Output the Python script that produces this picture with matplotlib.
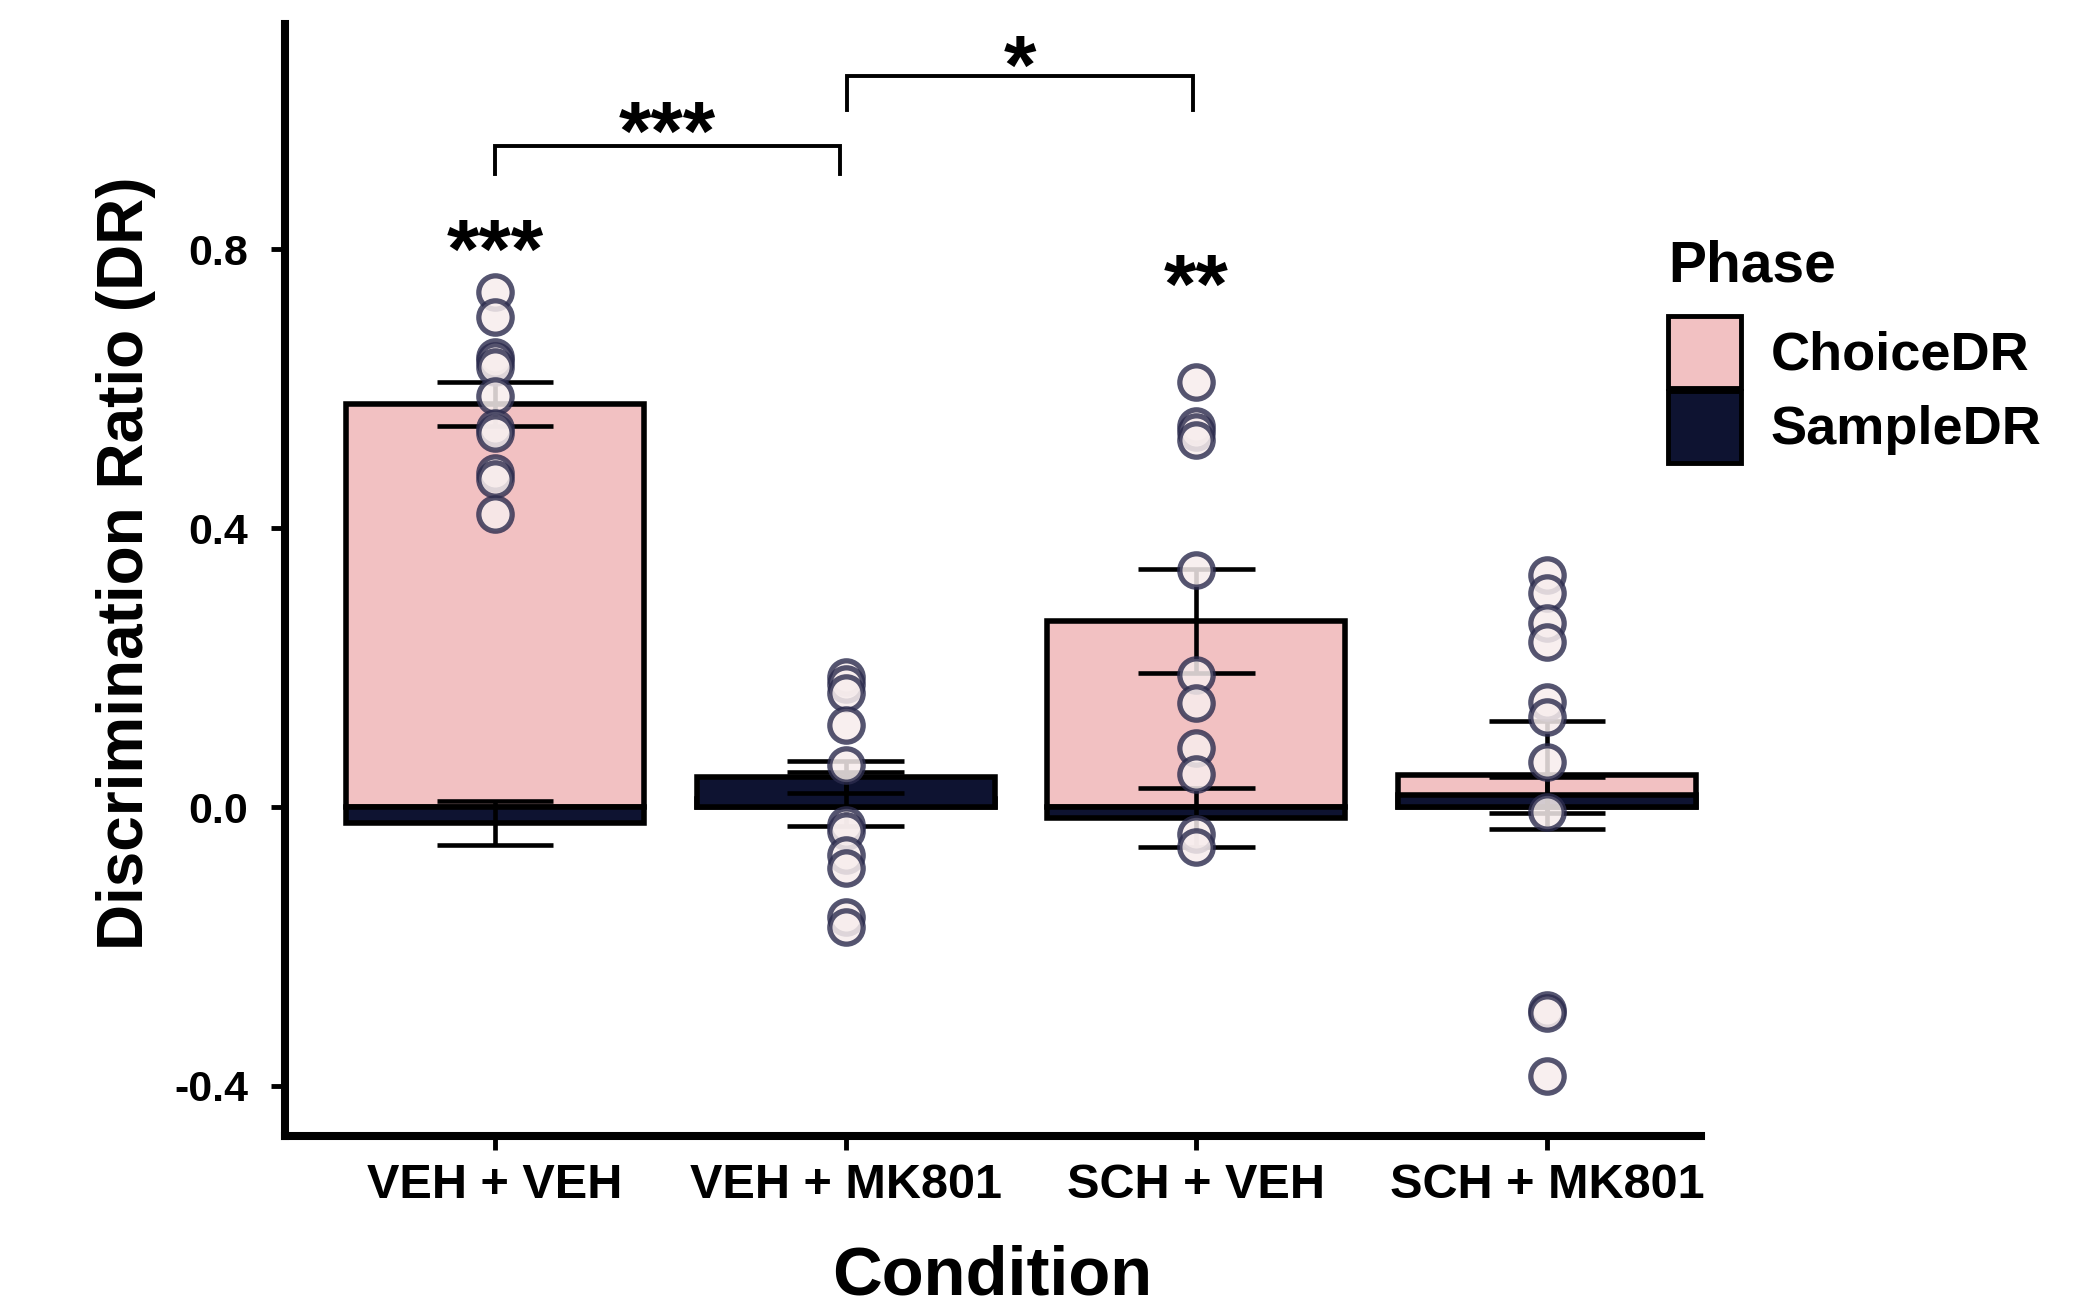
import matplotlib
matplotlib.use("Agg")
import matplotlib.pyplot as plt
from matplotlib.patches import Patch
import numpy as np

# ---------------- data ----------------
conditions = ["VEH + VEH", "VEH + MK801", "SCH + VEH", "SCH + MK801"]
phases = ["ChoiceDR", "SampleDR"]
choice_mean = [0.578, 0.012, 0.267, 0.046]
choice_se = [0.031, 0.039, 0.075, 0.077]
sample_mean = [-0.023, 0.043, -0.015, 0.017]
sample_se = [0.031, 0.023, 0.042, 0.026]

choice_veh_veh = [0.738, 0.703, 0.646, 0.639, 0.631, 0.589, 0.543, 0.536, 0.479, 0.471, 0.421]
choice_veh_mk801 = [0.187, 0.177, 0.163, 0.118, 0.060, -0.026, -0.035, -0.069, -0.088, -0.157, -0.172]
choice_sch_veh = [0.610, 0.546, 0.538, 0.527, 0.340, 0.189, 0.149, 0.084, 0.048, -0.038, -0.057]
choice_sch_mk801 = [0.333, 0.307, 0.264, 0.237, 0.151, 0.129, 0.065, -0.007, -0.291, -0.295, -0.385]

yticks = [-0.4, 0.0, 0.4, 0.8]
group_stars = ["***", "", "**", ""]
pair_tests = [(0, 1, "***"), (1, 2, "*")]

# ---------------- style ----------------
plt.rcParams["font.family"] = ["Liberation Sans", "DejaVu Sans"]
plt.rcParams["font.weight"] = "bold"

PINK = "#F2C1C2"
NAVY = "#0E1331"
PT_FACE = (0.97, 0.93, 0.93, 0.85)
PT_EDGE = (0.17, 0.17, 0.30, 0.80)

fig = plt.figure(figsize=(20.75, 13.05), dpi=100)
ax = fig.add_axes([284.5 / 2075, 1 - 1135.5 / 1305, (1700.6 - 284.5) / 2075, (1135.5 - 24) / 1305])

x = np.arange(len(conditions))
bw = 0.85

ax.bar(x, choice_mean, width=bw, color=PINK, edgecolor="black", linewidth=4, zorder=2)
ax.bar(x, sample_mean, width=bw, color=NAVY, edgecolor="black", linewidth=4, zorder=3)

cap = 0.166
for means, ses in [(choice_mean, choice_se), (sample_mean, sample_se)]:
    m = np.array(means)
    s = np.array(ses)
    ax.vlines(x, m - s, m + s, color="black", linewidth=3.3, zorder=4)
    ax.hlines(m + s, x - cap, x + cap, color="black", linewidth=3.3, zorder=4)
    ax.hlines(m - s, x - cap, x + cap, color="black", linewidth=3.3, zorder=4)

for i, pts in enumerate([choice_veh_veh, choice_veh_mk801, choice_sch_veh, choice_sch_mk801]):
    ax.plot(np.full(len(pts), x[i]), pts, "o", ms=24, mfc=PT_FACE, mec=PT_EDGE, mew=3.8,
            linestyle="none", zorder=5)

# significance annotations
STAR_FS = 60
def star(xc, yc, s):
    ax.annotate(s, xy=(xc, yc), xytext=(0, -0.50 * STAR_FS), textcoords="offset points",
                ha="center", va="baseline", fontsize=STAR_FS, fontweight="bold",
                annotation_clip=False, zorder=6)

star(x[0], 0.818, group_stars[0])
star(x[2], 0.768, group_stars[2])

brackets = [(0.0, 0.985, 0.948, 0.908, 0.988), (1.005, 1.99, 1.049, 0.999, 1.083)]
for (a, b, s), (x0, x1, ytop, ytip, ystar) in zip(pair_tests, brackets):
    ax.plot([x0, x0, x1, x1], [ytip, ytop, ytop, ytip], color="black", linewidth=2.8,
            solid_joinstyle="miter", clip_on=False, zorder=6)
    star((x0 + x1) / 2, ystar, s)

# axes
ax.set_xlim(-0.6, 3.438)
ax.set_ylim(-0.471, 1.123)
ax.set_xticks(x)
ax.set_xticklabels(conditions, fontsize=35, fontweight="bold")
ax.set_yticks(yticks)
ax.set_yticklabels([f"{v:.1f}" for v in yticks], fontsize=31, fontweight="bold")
ax.tick_params(axis="both", length=10, width=3.5, color="black")
ax.tick_params(axis="y", pad=16)
ax.tick_params(axis="x", pad=10)
for sp in ["top", "right"]:
    ax.spines[sp].set_visible(False)
for sp in ["left", "bottom"]:
    ax.spines[sp].set_linewidth(5.8)
    ax.spines[sp].set_capstyle("projecting")

ax.set_xlabel("Condition", fontsize=49.5, fontweight="bold", va="center")
ax.xaxis.set_label_coords(0.5, -0.127)
ax.set_ylabel("Discrimination Ratio (DR)", fontsize=46, fontweight="bold", va="center")
ax.yaxis.set_label_coords(-0.112, 0.515)

handles = [Patch(facecolor=PINK, edgecolor="black", linewidth=3.5),
           Patch(facecolor=NAVY, edgecolor="black", linewidth=3.5)]
leg = fig.legend(handles, phases, loc="upper left", bbox_to_anchor=(1668 / 2075, 1 - 239 / 1305),
                 frameon=False, fontsize=39, title="Phase",
                 title_fontproperties={"size": 41, "weight": "bold"},
                 handlelength=1.35, handleheight=1.67, handletextpad=0.55, labelspacing=0.05,
                 borderpad=0, borderaxespad=0, alignment="left")
for t in leg.get_texts():
    t.set_fontweight("bold")
leg._legend_box.sep = 16.5

fig.savefig("out.png", dpi=100)
